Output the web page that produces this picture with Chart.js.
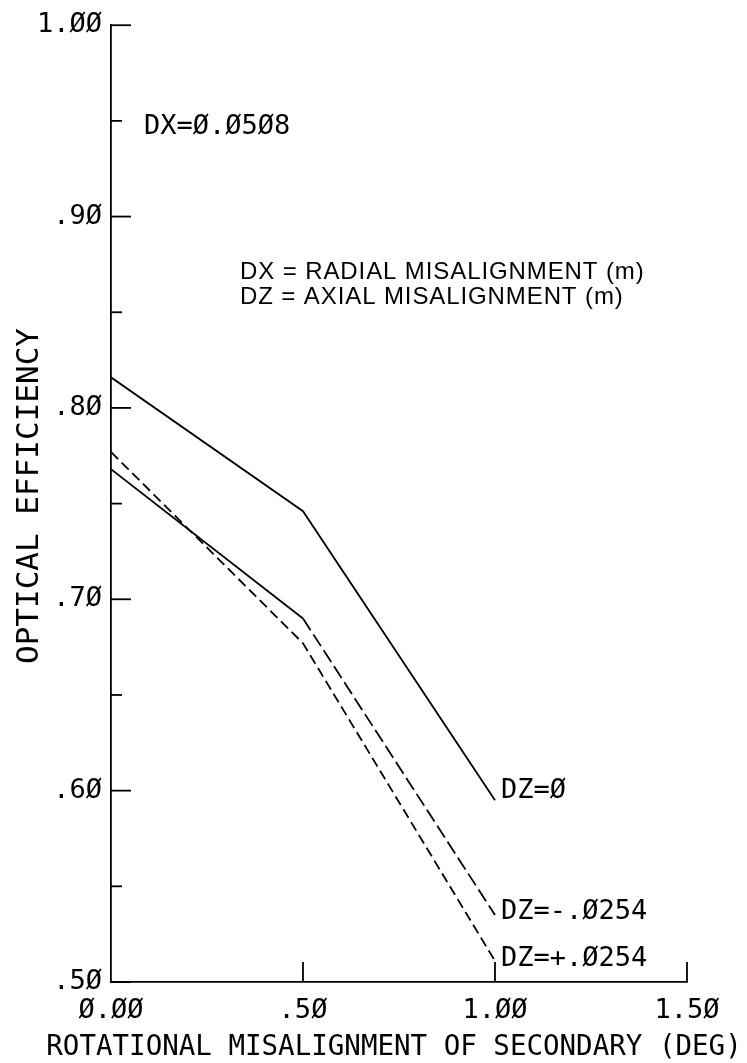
<!DOCTYPE html>
<html>
<head>
<meta charset="utf-8">
<script src="https://cdn.jsdelivr.net/npm/chart.js@4.4.1/dist/chart.umd.min.js"></script>
<style>
  html, body { margin: 0; padding: 0; background: #ffffff; }
  #wrap { width: 747px; height: 1063px; }
</style>
</head>
<body>
<div id="wrap"><canvas id="c" width="747" height="1063"></canvas></div>
<script>
// ---- data ----
const xValues = [0.0, 0.5, 1.0];                 // rotational misalignment (deg)
const dzZero  = [0.816, 0.746, 0.595];           // DZ = 0
const dzMinus = [0.768, 0.690, 0.535];           // DZ = -.0254
const dzPlus  = [0.777, 0.677, 0.511];           // DZ = +.0254

const seriesNames = ['DZ=Ø', 'DZ=-.Ø254', 'DZ=+.Ø254'];
const xTickLabels = ['Ø.ØØ', '.5Ø', '1.ØØ', '1.5Ø'];
const yTickLabels = ['.5Ø', '', '.6Ø', '', '.7Ø', '', '.8Ø', '', '.9Ø', '', '1.ØØ'];
const xTitle = 'ROTATIONAL MISALIGNMENT OF SECONDARY (DEG)';
const yTitle = 'OPTICAL EFFICIENCY';
const dxNote = 'DX=Ø.Ø5Ø8';
const legendNotes = ['DX = RADIAL MISALIGNMENT (m)', 'DZ = AXIAL MISALIGNMENT (m)'];

const INK = '#000000';
const MONO = '"DejaVu Sans Mono", "Liberation Mono", monospace';

function pts(ys) { return xValues.map((x, i) => ({ x: x, y: ys[i] })); }

const annotate = {
  id: 'annotate',
  afterDraw(chart) {
    const ctx = chart.ctx;
    const xs = chart.scales.x, ys = chart.scales.y;
    const area = chart.chartArea;
    ctx.save();
    ctx.strokeStyle = INK;
    ctx.lineWidth = 1.8;
    // inward tick marks on y axis
    ys.ticks.forEach((t, i) => {
      const py = ys.getPixelForValue(t.value);
      const len = yTickLabels[i] ? 20 : 11;
      ctx.beginPath();
      ctx.moveTo(area.left, py);
      ctx.lineTo(area.left + len, py);
      ctx.stroke();
    });
    // upward tick marks on x axis
    xs.ticks.forEach((t, i) => {
      if (i === 0) return;
      const px = xs.getPixelForValue(t.value);
      ctx.beginPath();
      ctx.moveTo(px, area.bottom);
      ctx.lineTo(px, area.bottom - 20);
      ctx.stroke();
    });
    ctx.fillStyle = INK;
    ctx.textBaseline = 'middle';
    // axis titles
    ctx.textAlign = 'center';
    ctx.font = '27.5px ' + MONO;
    ctx.fillText(xTitle, 394, 1048);
    ctx.save();
    ctx.translate(30, 496);
    ctx.rotate(-Math.PI / 2);
    ctx.font = '31px ' + MONO;
    ctx.fillText(yTitle, 0, 0);
    ctx.restore();
    // plotter-style notes
    ctx.textAlign = 'left';
    ctx.font = '27px ' + MONO;
    ctx.fillText(dxNote, 144, 127);
    const endX = xs.getPixelForValue(xValues[xValues.length - 1]) + 6;
    const last = [dzZero, dzMinus, dzPlus].map(a => a[a.length - 1]);
    const offs = [-9, -3, -2];
    seriesNames.forEach((n, i) => {
      ctx.fillText(n, endX, ys.getPixelForValue(last[i]) + offs[i]);
    });
    // typeset legend notes
    ctx.font = '24px "Liberation Sans", Arial, sans-serif';
    ctx.letterSpacing = '0.9px';
    ctx.fillText(legendNotes[0], 240, 272);
    ctx.fillText(legendNotes[1], 240, 297);
    ctx.restore();
  }
};

const lineBase = { borderColor: INK, borderWidth: 1.8, pointRadius: 0, tension: 0, fill: false };

new Chart(document.getElementById('c'), {
  type: 'line',
  data: {
    datasets: [
      Object.assign({ label: seriesNames[0], data: pts(dzZero) }, lineBase),
      Object.assign({ label: seriesNames[1], data: pts(dzMinus),
        segment: { borderDash: c => c.p0DataIndex >= 1 ? [14, 5] : [] } }, lineBase),
      Object.assign({ label: seriesNames[2], data: pts(dzPlus), borderDash: [10, 5] }, lineBase)
    ]
  },
  options: {
    responsive: false,
    animation: false,
    devicePixelRatio: 1,
    layout: { padding: { top: 22, right: 60, left: 0, bottom: 0 } },
    plugins: { legend: { display: false }, tooltip: { enabled: false } },
    scales: {
      x: {
        type: 'linear', min: 0, max: 1.5,
        grid: { display: false, drawTicks: false },
        border: { display: true, color: INK, width: 1.8 },
        ticks: {
          stepSize: 0.5, autoSkip: false, maxRotation: 0, padding: 13,
          color: INK, font: { family: MONO, size: 27 },
          callback: (v, i) => xTickLabels[i]
        },
        title: { display: false },
        afterFit: s => { s.height = 81; }
      },
      y: {
        min: 0.5, max: 1.0,
        grid: { display: false, drawTicks: false },
        border: { display: true, color: INK, width: 1.8 },
        ticks: {
          stepSize: 0.05, autoSkip: false, padding: 9,
          color: INK, font: { family: MONO, size: 27 },
          callback: (v, i) => yTickLabels[i]
        },
        title: { display: false },
        afterFit: s => { s.width = 111; }
      }
    }
  },
  plugins: [annotate]
});
</script>
</body>
</html>
